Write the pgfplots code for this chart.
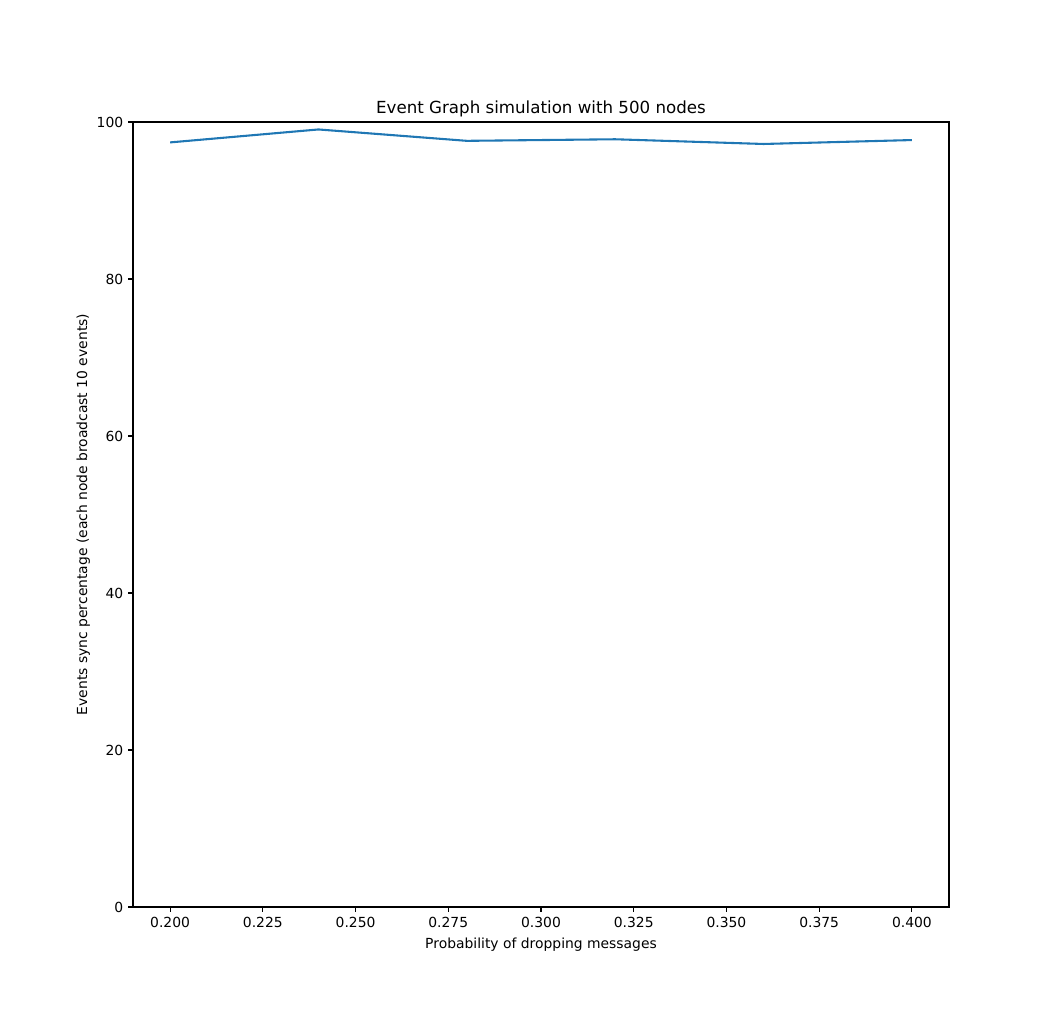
\documentclass[border=0pt]{standalone}
\usepackage{fontspec}
\setmainfont{DejaVu Sans}
\usepackage{pgfplots}
\pgfplotsset{compat=1.18}
\definecolor{mplblue}{HTML}{1F77B4}
\begin{document}
\begin{tikzpicture}
\begin{axis}[
    scale only axis,
    width=587.5pt, height=565.2pt,
    xmin=0.19, xmax=0.41,
    ymin=0, ymax=100,
    xtick={0.2,0.225,0.25,0.275,0.3,0.325,0.35,0.375,0.4},
    ytick={0,20,40,60,80,100},
    scaled x ticks=false,
    xticklabel style={/pgf/number format/.cd, fixed, fixed zerofill, precision=3},
    /pgf/number format/assume math mode=true,
    tick align=outside,
    tick pos=left,
    major tick length=3.5pt,
    axis line style={line width=0.8pt},
    every tick/.style={black, line width=0.8pt},
    tick label style={font=\fontsize{10}{12}\selectfont},
    label style={font=\fontsize{10}{12}\selectfont},
    title style={font=\fontsize{12}{14}\selectfont, yshift=-6pt},
    title={Event Graph simulation with 500 nodes},
    xlabel={Probability of dropping messages},
    ylabel={Events sync percentage (each node broadcast 10 events)},
    xlabel style={yshift=-1pt},
    ylabel style={yshift=-2pt},
]
\addplot[color=mplblue, line width=1.5pt, mark=none] coordinates {
    (0.20,97.4) (0.24,99.05) (0.28,97.6) (0.32,97.8) (0.36,97.2) (0.40,97.7)
};
\coordinate (sw) at (rel axis cs:0,0);
\coordinate (ne) at (rel axis cs:1,1);
\end{axis}
\path[use as bounding box] ([xshift=-95.76pt,yshift=-80.64pt]sw) rectangle ([xshift=75.6pt,yshift=87.84pt]ne);
\end{tikzpicture}
\end{document}
